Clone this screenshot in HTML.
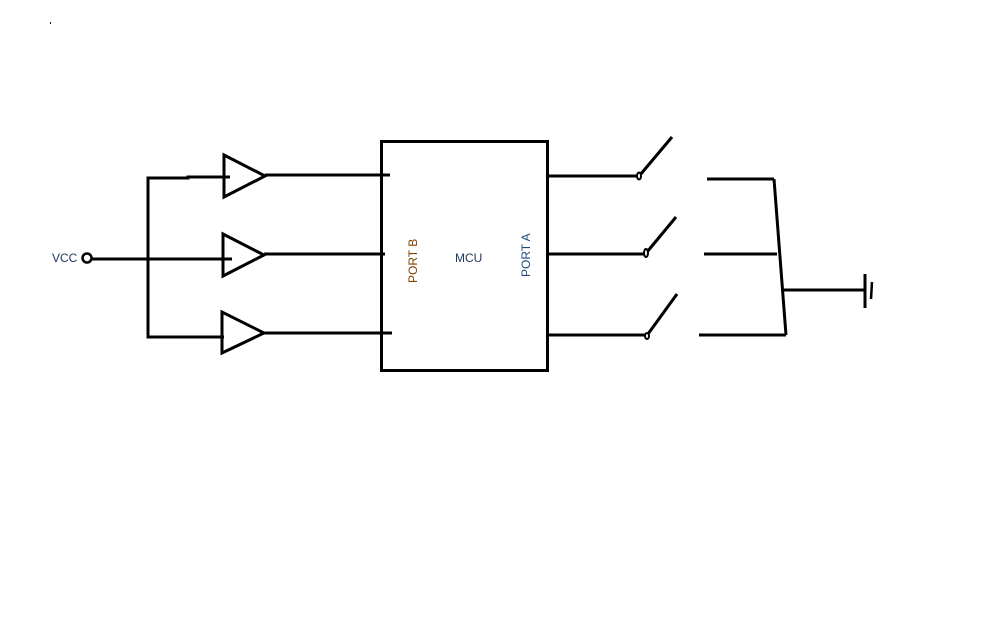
<!DOCTYPE html>
<html><head><meta charset="utf-8"><style>
html,body{margin:0;padding:0;background:#fff;width:1008px;height:630px;overflow:hidden}
svg{display:block}
text{font-family:"Liberation Sans","DejaVu Sans",sans-serif;font-size:12px}
</style></head><body>
<svg width="1008" height="630" viewBox="0 0 1008 630" xmlns="http://www.w3.org/2000/svg">
<rect x="50" y="22" width="1" height="2" fill="#000"/>
<g stroke="#000" stroke-width="3" fill="none" stroke-linecap="butt">
<!-- bus -->
<polyline points="230,177 188,177 188,178 148,178 148,337 224,337"/>
<circle cx="87" cy="258" r="4.5" stroke-width="2.5"/>
<line x1="92" y1="259" x2="232" y2="259"/>
<!-- buffers -->
<polygon points="224,155 224,197 265,176"/>
<polygon points="223,234 223,276 264,255"/>
<polygon points="222,312 222,353 264,333"/>
<line x1="265" y1="175" x2="390" y2="175"/>
<line x1="264" y1="254" x2="385" y2="254"/>
<line x1="264" y1="333" x2="392" y2="333"/>
<!-- MCU -->
<rect x="381.5" y="141.5" width="166" height="229"/>
<!-- port A lines -->
<line x1="547" y1="176" x2="638" y2="176"/>
<line x1="547" y1="254" x2="644" y2="254"/>
<line x1="547" y1="335" x2="645" y2="335"/>
<!-- switch arms -->
<line x1="640" y1="175" x2="672" y2="137"/>
<line x1="647" y1="252" x2="676" y2="217"/>
<line x1="648" y1="334" x2="677" y2="294"/>
<!-- right side -->
<line x1="707" y1="179" x2="774" y2="179"/>
<line x1="704" y1="254" x2="777" y2="254"/>
<line x1="699" y1="335" x2="786" y2="335"/>
<line x1="774" y1="179" x2="786" y2="335"/>
<line x1="784" y1="290" x2="865" y2="290"/>
<line x1="865" y1="274" x2="865" y2="308"/>
<line x1="872" y1="282" x2="871" y2="299" stroke-width="2.5"/>
</g>
<g stroke="#000" stroke-width="2" fill="#fff">
<ellipse cx="639" cy="176" rx="2" ry="3.5"/>
<ellipse cx="646" cy="253" rx="2" ry="4"/>
<ellipse cx="647" cy="336" rx="2" ry="3"/>
</g>
<text x="52" y="262" fill="#1f3864">VCC</text>
<text x="455" y="262" fill="#1f3864">MCU</text>
<text transform="translate(417,283) rotate(-90)" fill="#7f3f00">PORT B</text>
<text transform="translate(530,277) rotate(-90)" fill="#1f497d">PORT A</text>
</svg>
</body></html>
